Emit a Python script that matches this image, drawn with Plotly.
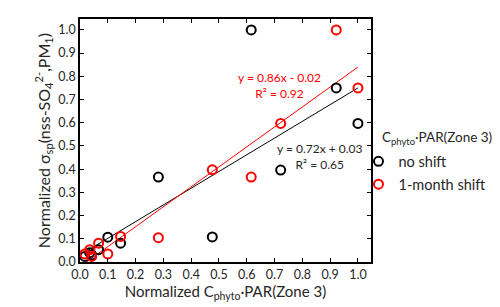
import plotly.graph_objects as go
import numpy as np

# data
x_vals = [0.017, 0.035, 0.042, 0.067, 0.100, 0.146, 0.282, 0.476, 0.616, 0.722, 0.922, 1.000]
y_no_shift = [0.024, 0.040, 0.030, 0.053, 0.107, 0.081, 0.366, 0.108, 1.000, 0.396, 0.750, 0.597]
y_shift = [0.035, 0.053, 0.024, 0.081, 0.035, 0.110, 0.105, 0.397, 0.366, 0.597, 1.000, 0.750]
series_names = ["no shift", "1-month shift"]
series_colors = ["black", "red"]
fit_slopes = [0.72, 0.86]
fit_intercepts = [0.03, -0.02]
fit_labels = ["y = 0.72x + 0.03<br>R² = 0.65", "y = 0.86x - 0.02<br>R² = 0.92"]
x_ticks = [0.0, 0.1, 0.2, 0.3, 0.4, 0.5, 0.6, 0.7, 0.8, 0.9, 1.0]
y_ticks = [0.0, 0.1, 0.2, 0.3, 0.4, 0.5, 0.6, 0.7, 0.8, 0.9, 1.0]
legend_title = "C<sub>phyto</sub>·PAR(Zone 3)"

FONT = "Lato"
TXT = "#262626"
fig = go.Figure()

ys = [y_no_shift, y_shift]
for i in range(2):
    xs = np.array([min(x_vals), max(x_vals)])
    fig.add_trace(go.Scatter(
        x=xs, y=fit_slopes[i] * xs + fit_intercepts[i], mode="lines",
        line=dict(color=series_colors[i], width=1), showlegend=False, hoverinfo="skip"))

for i in range(2):
    fig.add_trace(go.Scatter(
        x=x_vals, y=ys[i], mode="markers", name=series_names[i],
        legendgroup=series_names[i],
        marker=dict(symbol="circle-open", size=9, color=series_colors[i],
                    line=dict(width=2, color=series_colors[i]))))

label_pos = [(0.863, 0.453), (0.716, 0.76)]
for i in range(2):
    fig.add_annotation(x=label_pos[i][0], y=label_pos[i][1], text=fit_labels[i],
                       showarrow=False, font=dict(family=FONT, size=12, color=series_colors[i] if i else TXT),
                       xanchor="center", yanchor="middle", align="center")

# legend title
fig.add_annotation(xref="paper", yref="paper", x=1.03, y=0.51, text=legend_title,
                   showarrow=False, xanchor="left", yanchor="middle",
                   font=dict(family=FONT, size=13.5, color=TXT))

axis_common = dict(showline=True, linecolor="black", linewidth=1.5, mirror="ticks",
                   ticks="inside", ticklen=4, tickcolor="black", tickwidth=1,
                   showgrid=False, zeroline=False,
                   tickfont=dict(family=FONT, size=12.5, color=TXT),
                   tickformat=".1f")

fig.update_xaxes(range=[0, 1.047], tickvals=x_ticks,
                 title=dict(text="Normalized C<sub>phyto</sub>·PAR(Zone 3)",
                            font=dict(family=FONT, size=15, color=TXT), standoff=4),
                 **axis_common)
fig.update_yaxes(range=[0, 1.047], tickvals=y_ticks,
                 title=dict(text="Normalized σ<sub>sp</sub>(nss-SO<sub>4</sub><sup>2-</sup>,PM<sub>1</sub>)",
                            font=dict(family=FONT, size=16, color=TXT), standoff=4),
                 **axis_common)

fig.update_layout(
    width=500, height=307,
    margin=dict(l=72, r=137, t=9, b=53),
    plot_bgcolor="white", paper_bgcolor="white",
    legend=dict(x=0.957, y=0.48, xanchor="left", yanchor="top",
                font=dict(family=FONT, size=14.5, color=TXT),
                tracegroupgap=1, itemwidth=30, bgcolor="rgba(0,0,0,0)"),
)

fig.write_html("out.html")
